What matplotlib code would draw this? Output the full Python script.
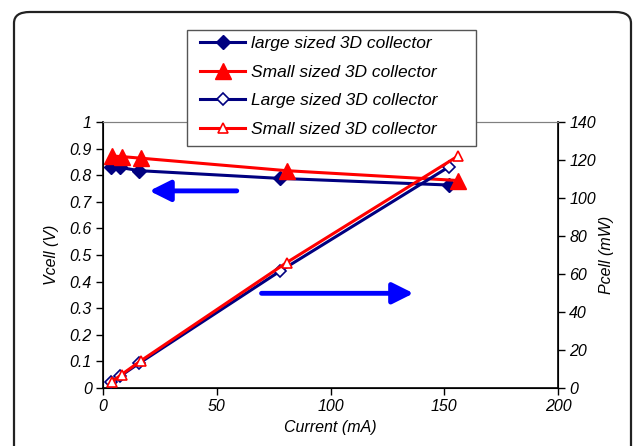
import matplotlib.pyplot as plt
from matplotlib.patches import FancyBboxPatch, Rectangle

# cell voltage / power vs current for the two 3D collectors
i_large = [3.6, 7.5, 16.0, 77.8, 152.2]
v_large = [0.830, 0.829, 0.817, 0.788, 0.763]
p_large = [2.9, 6.2, 13.1, 61.5, 116.5]

i_small = [3.8, 8.2, 16.6, 80.7, 156.2]
v_small = [0.872, 0.870, 0.864, 0.817, 0.780]
p_small = [3.2, 7.1, 14.3, 66.0, 122.2]

labels = ["large sized 3D collector", "Small sized 3D collector",
          "Large sized 3D collector", "Small sized 3D collector"]

navy = '#000080'
red = '#FF0000'

plt.rcParams['font.family'] = ['Liberation Sans', 'DejaVu Sans']
plt.rcParams['font.style'] = 'italic'
plt.rcParams['font.size'] = 11.5

W, H = 633, 446
fig = plt.figure(figsize=(W / 100, H / 100), dpi=100)

# rounded outer frame
frame = FancyBboxPatch((14 / W, -0.1), (W - 16) / W, 1 - 12 / H + 0.1,
                       boxstyle='round,pad=0,rounding_size=0.025',
                       transform=fig.transFigure, fill=False,
                       edgecolor='#222222', lw=1.6, clip_on=False)
fig.patches.append(frame)

ax = fig.add_axes([103 / W, 58 / H, 455 / W, 266 / H])
ax2 = ax.twinx()

l1, = ax.plot(i_large, v_large, color=navy, lw=2.2, marker='D', ms=7,
              mfc=navy, mec=navy, zorder=3)
l2, = ax.plot(i_small, v_small, color=red, lw=2.2, marker='^', ms=11,
              mfc=red, mec=red, zorder=4)
l3, = ax2.plot(i_large, p_large, color=navy, lw=2.2, marker='D', ms=6.5,
               mfc='white', mec=navy, mew=1.2, zorder=3)
l4, = ax2.plot(i_small, p_small, color=red, lw=2.2, marker='^', ms=7.5,
               mfc='white', mec=red, mew=1.2, zorder=4)

ax.set_xlim(0, 200)
ax.set_ylim(0, 1)
ax2.set_ylim(0, 140)
ax.set_xticks([0, 50, 100, 150, 200])
ax.set_yticks([i / 10 for i in range(11)])
ax.set_yticklabels(['0', '0.1', '0.2', '0.3', '0.4', '0.5', '0.6', '0.7',
                    '0.8', '0.9', '1'])
ax2.set_yticks(range(0, 141, 20))

ax.set_xlabel('Current (mA)', labelpad=4)
ax.set_ylabel('Vcell (V)', labelpad=8)
ax2.set_ylabel('Pcell (mW)', labelpad=2)

for a in (ax, ax2):
    a.tick_params(direction='out', length=5, width=1, pad=3)
    a.spines['top'].set_color('#808080')
ax.spines['left'].set_linewidth(1.2)
ax2.spines['right'].set_linewidth(1.2)
ax.spines['bottom'].set_linewidth(1.2)

# arrows pointing to the axis each curve belongs to
arrow = dict(arrowstyle='-|>,head_length=0.9,head_width=0.45', color='#0000FF',
             lw=3.5, mutation_scale=14, shrinkA=0, shrinkB=0)
ax.annotate('', xy=(20.4, 0.741), xytext=(58.8, 0.741), arrowprops=arrow)
ax.annotate('', xy=(136.5, 0.356), xytext=(69.7, 0.356), arrowprops=arrow)

# legend box is wider than its entries, so draw it separately
box = Rectangle((187 / W, 1 - 146 / H), 289 / W, 116 / H,
                transform=fig.transFigure, facecolor='white',
                edgecolor='#555555', lw=1.0, zorder=5)
fig.patches.append(box)

leg = fig.legend([l1, l2, l3, l4], labels, loc='upper left',
                 bbox_to_anchor=(194 / W, 1 - 30 / H), borderaxespad=0,
                 frameon=False, handlelength=2.6, handletextpad=0.3,
                 labelspacing=0.77, borderpad=0.36, fontsize=12.5)
leg.set_zorder(10)

fig.savefig('out.png', dpi=100)
